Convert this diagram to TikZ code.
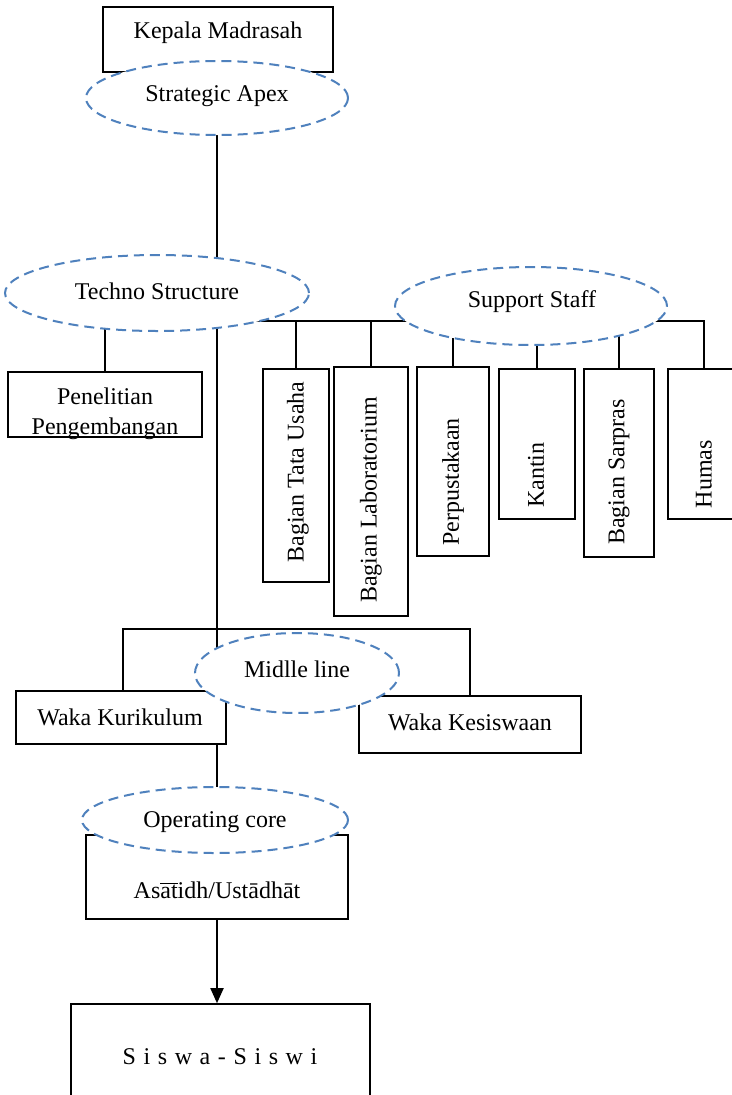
\documentclass[tikz,border=0pt]{standalone}
\usepackage{fontspec}
\setmainfont{Liberation Serif}
\usetikzlibrary{shapes.geometric,arrows.meta}
\definecolor{ovalblue}{RGB}{79,129,189}
\pgfdeclarelayer{background}
\pgfsetlayers{background,main}
\tikzset{
  box/.style={draw=black, line width=1.6pt, fill=white, inner sep=0pt},
  oval/.style={ellipse, draw=ovalblue, line width=2pt, dash pattern=on 10pt off 6pt,
               fill=white, inner sep=0pt},
  lbl/.style={inner sep=0pt, font=\fontsize{24}{30}\selectfont},
  link/.style={draw=black, line width=1.6pt},
}
\begin{document}
\begin{tikzpicture}[x=1pt,y=-1pt]
\useasboundingbox (0,0) rectangle (731,1095);

% boxes
\node[box, minimum width=230pt, minimum height=65pt] (kepala) at (218,39.5) {};
\node[box, minimum width=194pt, minimum height=65pt] (penel) at (105,404.5) {};
\node[box, minimum width=66pt, minimum height=213pt] (tata) at (296,475.5) {};
\node[box, minimum width=74pt, minimum height=249pt] (lab) at (371,491.5) {};
\node[box, minimum width=72pt, minimum height=189pt] (perpus) at (453,461.5) {};
\node[box, minimum width=76pt, minimum height=150pt] (kantin) at (537,444) {};
\node[box, minimum width=70pt, minimum height=188pt] (sarpras) at (619,463) {};
\node[box, minimum width=72pt, minimum height=150pt] (humas) at (704,444) {};
\node[box, minimum width=210pt, minimum height=53pt] (kuri) at (121,717.5) {};
\node[box, minimum width=222pt, minimum height=57pt] (kes) at (470,724.5) {};
\node[box, minimum width=262pt, minimum height=84pt] (asatidh) at (217,877) {};
\node[box, minimum width=299pt, minimum height=106pt] (siswa) at (220.5,1057) {};

% dashed ovals
\node[oval, minimum width=262pt, minimum height=74pt] (apex) at (217,98) {};
\node[oval, minimum width=304pt, minimum height=76pt] (techno) at (157,293) {};
\node[oval, minimum width=272pt, minimum height=78pt] (support) at (531,306) {};
\node[oval, minimum width=204pt, minimum height=80pt] (midl) at (297,673) {};
\node[oval, minimum width=266pt, minimum height=66pt] (opcore) at (215,820) {};

% labels
\node[lbl] (kepala-t) at (218,33) {Kepala Madrasah};
\node[lbl] (apex-t) at (217,96) {Strategic Apex};
\node[lbl] (techno-t) at (157,291) {Techno Structure};
\node[lbl] (support-t) at (532,302) {Support Staff};
\node[lbl, align=center] (penel-t) at (105,414) {Penelitian\\Pengembangan};
\node[lbl, rotate=90] (tata-t) at (298,472) {Bagian Tata Usaha};
\node[lbl, rotate=90] (lab-t) at (371,500) {Bagian Laboratorium};
\node[lbl, rotate=90] (perpus-t) at (453,482) {Perpustakaan};
\node[lbl, rotate=90] (kantin-t) at (536,475) {Kantin};
\node[lbl, rotate=90] (sarpras-t) at (619,472) {Bagian Sarpras};
\node[lbl, rotate=90] (humas-t) at (704,474) {Humas};
\node[lbl] (midl-t) at (297,669) {Midlle line};
\node[lbl] (kuri-t) at (120,717) {Waka Kurikulum};
\node[lbl] (kes-t) at (470,722) {Waka Kesiswaan};
\node[lbl] (opcore-t) at (215,822) {Operating core};
\node[lbl] (asatidh-t) at (217,890) {As$\overline{\hbox{at}}$idh/Ust\={a}dh\={a}t};
\node[lbl] (siswa-t) at (220,1057) {\spaceskip=7.6pt S i s w a - S i s w i};

% connectors, kept behind the filled shapes
\coordinate (busL) at (240,321);
\coordinate (midbus) at (123,629);
\begin{pgfonlayer}{background}
  \draw[link] (apex.center) -- (apex.center |- opcore.center);
  \draw[link] (penel.north) -- (penel.north |- techno.center);
  \draw[link] (busL) -| (humas.north);
  \foreach \n in {tata,lab,perpus,kantin,sarpras}
    \draw[link] (\n.north) -- (\n.north |- busL);
  \draw[link] (midbus |- kuri.north) -- (midbus) -| (kes.north);
\end{pgfonlayer}
\draw[link, line width=1.8pt, -{Triangle[length=15pt,width=13pt]}] (asatidh.south) -- (asatidh.south |- siswa.north);
\end{tikzpicture}
\end{document}
